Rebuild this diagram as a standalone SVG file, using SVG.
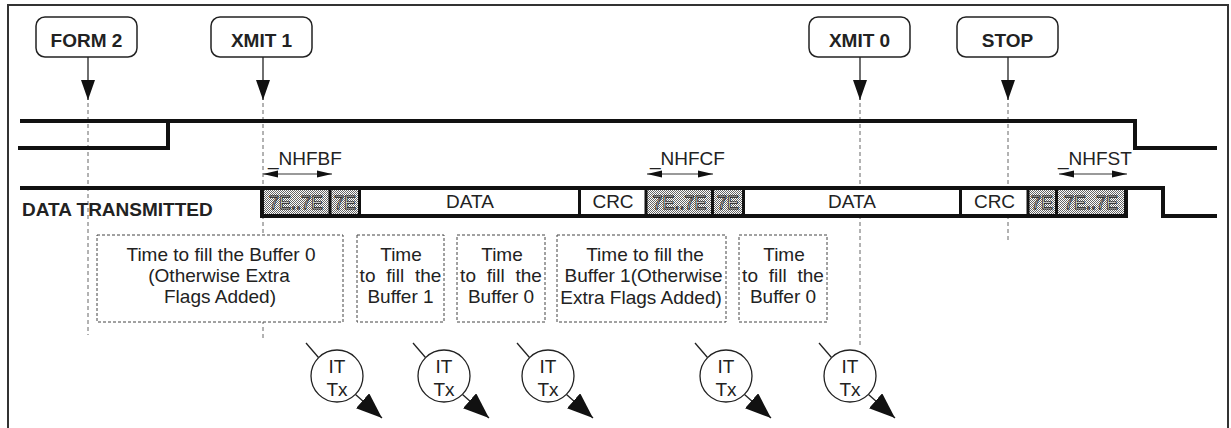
<svg xmlns="http://www.w3.org/2000/svg" width="1231" height="428" viewBox="0 0 1231 428">
<style>
text{font-family:"Liberation Sans",Arial,sans-serif;fill:#222}
.b{font-weight:bold;font-size:19px}
.r{font-size:19px}
.c{text-anchor:middle}
.ws{word-spacing:5.5px}
.lbl{fill:#fff;stroke:#222;stroke-width:1.5}
.vd{stroke:#666;stroke-width:1;stroke-dasharray:4 3;fill:none}
.db{fill:#fff;stroke:#444;stroke-width:1;stroke-dasharray:3 2}
.wave{fill:none;stroke:#111;stroke-width:4}
.sep{stroke:#111;stroke-width:3}
.sh{fill:url(#dots)}
.f7{font-size:18px;fill:#fff;stroke:#111;stroke-width:0.8}
.circ{fill:#fff;stroke:#222;stroke-width:1.3}
.thin{stroke:#222;stroke-width:1.3;fill:none}
</style>
<defs>
<pattern id="dots" width="2" height="2" patternUnits="userSpaceOnUse"><rect width="2" height="2" fill="#fff"/><rect width="1" height="1" fill="#666"/><rect x="1" y="1" width="1" height="1" fill="#666"/></pattern>
<marker id="ah" markerUnits="userSpaceOnUse" markerWidth="20" markerHeight="14" refX="20" refY="7" orient="auto"><path d="M0,0 L20,7 L0,14 z" fill="#111"/></marker>
<marker id="sa" markerUnits="userSpaceOnUse" markerWidth="15" markerHeight="8" refX="15" refY="4" orient="auto-start-reverse"><path d="M0,0.5 L15,4 L0,7.5 z" fill="#111"/></marker>
<marker id="ia" markerUnits="userSpaceOnUse" markerWidth="26" markerHeight="20" refX="26" refY="10" orient="auto"><path d="M0,0 L26,10 L0,20 z" fill="#111"/></marker>
</defs>
<path d="M8,428 V5 H1228 V428" fill="none" stroke="#333" stroke-width="2"/>

<g id="connectors">
<line class="vd" x1="88" y1="103" x2="88" y2="335"/>
<line class="vd" x1="263" y1="103" x2="263" y2="340"/>
<line class="vd" x1="860" y1="103" x2="860" y2="345"/>
<line class="vd" x1="1008" y1="103" x2="1008" y2="240"/>
<line class="thin" x1="88" y1="57" x2="88" y2="100" marker-end="url(#ah)"/>
<line class="thin" x1="263" y1="57" x2="263" y2="100" marker-end="url(#ah)"/>
<line class="thin" x1="860" y1="57" x2="860" y2="100" marker-end="url(#ah)"/>
<line class="thin" x1="1008" y1="57" x2="1008" y2="100" marker-end="url(#ah)"/>
<line x1="263" y1="174" x2="332" y2="174" stroke="#777" stroke-width="1.3" marker-start="url(#sa)" marker-end="url(#sa)"/>
<line x1="647" y1="174" x2="713" y2="174" stroke="#777" stroke-width="1.3" marker-start="url(#sa)" marker-end="url(#sa)"/>
<line x1="1059" y1="174" x2="1127" y2="174" stroke="#777" stroke-width="1.3" marker-start="url(#sa)" marker-end="url(#sa)"/>
</g>

<g id="label-form2"><rect class="lbl" x="36" y="17" width="101" height="40" rx="9"/><text class="b c" x="86.5" y="47">FORM 2</text></g>
<g id="label-xmit1"><rect class="lbl" x="211" y="17" width="101" height="40" rx="9"/><text class="b c" x="261.5" y="47">XMIT 1</text></g>
<g id="label-xmit0"><rect class="lbl" x="809" y="17" width="101" height="40" rx="9"/><text class="b c" x="859.5" y="47">XMIT 0</text></g>
<g id="label-stop"><rect class="lbl" x="957" y="17" width="101" height="40" rx="9"/><text class="b c" x="1007.5" y="47">STOP</text></g>

<g id="signal-top">
<path class="wave" d="M20,121 H1135 V148 H1217"/>
<path class="wave" d="M18,148 H168 V121"/>
</g>

<g id="nhf-labels">
<text class="r" x="268" y="165">_NHFBF</text>
<text class="r" x="650" y="165">_NHFCF</text>
<text class="r" x="1058" y="165">_NHFST</text>
</g>

<g id="data-bar">
<path class="wave" d="M20,188 H1163 V216 H1217"/>
<rect x="262" y="188" width="864" height="28" fill="#fff" stroke="#111" stroke-width="4"/>
<rect class="sh" x="264" y="190" width="66" height="24"/>
<rect class="sh" x="330" y="190" width="29" height="24"/>
<rect class="sh" x="646" y="190" width="67" height="24"/>
<rect class="sh" x="713" y="190" width="31" height="24"/>
<rect class="sh" x="1028" y="190" width="29" height="24"/>
<rect class="sh" x="1057" y="190" width="67" height="24"/>
<line class="sep" x1="330" y1="188" x2="330" y2="216"/>
<line class="sep" x1="359.5" y1="188" x2="359.5" y2="216"/>
<line class="sep" x1="579.5" y1="188" x2="579.5" y2="216"/>
<line class="sep" x1="646" y1="188" x2="646" y2="216"/>
<line class="sep" x1="712.5" y1="188" x2="712.5" y2="216"/>
<line class="sep" x1="743.5" y1="188" x2="743.5" y2="216"/>
<line class="sep" x1="960.5" y1="188" x2="960.5" y2="216"/>
<line class="sep" x1="1028" y1="188" x2="1028" y2="216"/>
<line class="sep" x1="1056.5" y1="188" x2="1056.5" y2="216"/>
<text class="f7 c" x="296" y="208.5">7E..7E</text>
<text class="f7 c" x="345" y="208.5">7E</text>
<text class="r c" x="470" y="208">DATA</text>
<text class="r c" x="613" y="208">CRC</text>
<text class="f7 c" x="679.5" y="208.5">7E..7E</text>
<text class="f7 c" x="728" y="208.5">7E</text>
<text class="r c" x="852" y="208">DATA</text>
<text class="r c" x="994.5" y="208">CRC</text>
<text class="f7 c" x="1042" y="208.5">7E</text>
<text class="f7 c" x="1091" y="208.5">7E..7E</text>
<text class="b" x="22" y="216">DATA TRANSMITTED</text>
</g>

<g id="box1"><rect class="db" x="97" y="235" width="246" height="87"/>
<text class="r c" x="221" y="261">Time to fill the Buffer 0</text>
<text class="r c" x="219" y="282">(Otherwise Extra</text>
<text class="r c" x="220" y="303">Flags Added)</text></g>
<g id="box2"><rect class="db" x="357" y="235" width="87" height="87"/>
<text class="r c" x="401" y="261">Time</text>
<text class="r c ws" x="400.5" y="282">to fill the</text>
<text class="r c" x="400.5" y="303">Buffer 1</text></g>
<g id="box3"><rect class="db" x="457" y="235" width="88" height="87"/>
<text class="r c" x="502" y="261">Time</text>
<text class="r c ws" x="501" y="282">to fill the</text>
<text class="r c" x="501" y="303">Buffer 0</text></g>
<g id="box4"><rect class="db" x="557" y="235" width="169" height="87"/>
<text class="r c" x="645" y="261">Time to fill the</text>
<text class="r c" x="643.5" y="282">Buffer 1(Otherwise</text>
<text class="r c" x="641" y="304">Extra Flags Added)</text></g>
<g id="box5"><rect class="db" x="739" y="235" width="88" height="87"/>
<text class="r c" x="784" y="261">Time</text>
<text class="r c ws" x="783" y="282">to fill the</text>
<text class="r c" x="783" y="303">Buffer 0</text></g>

<g id="it1"><line class="thin" x1="306" y1="343" x2="318.5" y2="357.5"/><line class="thin" x1="355.5" y1="394.5" x2="382" y2="418" marker-end="url(#ia)"/><circle class="circ" cx="337" cy="376" r="26"/><text class="r c" x="337" y="373">IT</text><text class="r c" x="337" y="396">Tx</text></g>
<g id="it2"><line class="thin" x1="413" y1="343" x2="425.5" y2="357.5"/><line class="thin" x1="462.5" y1="394.5" x2="489" y2="418" marker-end="url(#ia)"/><circle class="circ" cx="444" cy="376" r="26"/><text class="r c" x="444" y="373">IT</text><text class="r c" x="444" y="396">Tx</text></g>
<g id="it3"><line class="thin" x1="517" y1="343" x2="529.5" y2="357.5"/><line class="thin" x1="566.5" y1="394.5" x2="593" y2="418" marker-end="url(#ia)"/><circle class="circ" cx="548" cy="376" r="26"/><text class="r c" x="548" y="373">IT</text><text class="r c" x="548" y="396">Tx</text></g>
<g id="it4"><line class="thin" x1="695" y1="343" x2="707.5" y2="357.5"/><line class="thin" x1="744.5" y1="394.5" x2="771" y2="418" marker-end="url(#ia)"/><circle class="circ" cx="726" cy="376" r="26"/><text class="r c" x="726" y="373">IT</text><text class="r c" x="726" y="396">Tx</text></g>
<g id="it5"><line class="thin" x1="819" y1="343" x2="831.5" y2="357.5"/><line class="thin" x1="868.5" y1="394.5" x2="895" y2="418" marker-end="url(#ia)"/><circle class="circ" cx="850" cy="376" r="26"/><text class="r c" x="850" y="373">IT</text><text class="r c" x="850" y="396">Tx</text></g>
</svg>
